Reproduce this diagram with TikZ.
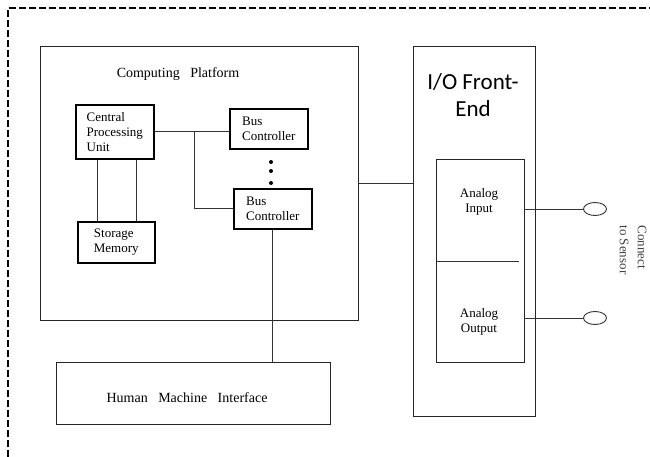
\documentclass[tikz,border=0pt]{standalone}
\usepackage{fontspec}
\setmainfont{Liberation Serif}
\newfontfamily\calib{Carlito}
\usetikzlibrary{shapes.geometric}
\begin{document}
\begin{tikzpicture}[x=1pt,y=-1pt,
  thinbox/.style={draw=black!85, line width=0.9pt, anchor=north west, inner sep=0pt},
  thickbox/.style={draw=black, line width=1.6pt, anchor=north west, inner sep=0pt, align=left, font=\fontsize{13}{15}\selectfont},
  lbl/.style={align=center, font=\fontsize{13}{15}\selectfont, inner sep=0pt},
  wire/.style={draw=black!80, line width=0.9pt},
  port/.style={ellipse, draw=black!80, line width=0.9pt, minimum width=23pt, minimum height=13pt, inner sep=0pt}
]
\useasboundingbox (0,0) rectangle (650,457);
% dashed frame
\draw[dash pattern=on 7pt off 3pt, line width=1.5pt] (8,457) -- (8,8) -- (650,8);

% computing platform
\node[thinbox, minimum width=318pt, minimum height=274pt] (plat) at (40,46) {};
\node[lbl, font=\fontsize{14}{16}\selectfont] (plattitle) at (178,74) {Computing\hspace{7pt} Platform};

\node[thickbox, minimum width=78pt, minimum height=54pt] (cpu) at (75,104) {Central\\Processing\\Unit};
\node[thickbox, minimum width=77pt, minimum height=41pt] (sto) at (77,221) {Storage\\Memory};
\node[thickbox, minimum width=78pt, minimum height=40pt] (bc1) at (229,108) {Bus\\Controller};
\node[thickbox, minimum width=78pt, minimum height=40pt] (bc2) at (233,188) {Bus\\Controller};

\fill (271,162) circle (2pt) (271,171) circle (2pt) (271,183) circle (2pt);

% human machine interface
\node[thinbox, minimum width=274pt, minimum height=62pt] (hmi) at (56,362) {};
\node[lbl, font=\fontsize{14}{16}\selectfont] (hmitext) at (187,398) {Human\hspace{7pt} Machine\hspace{7pt} Interface};

% I/O front end
\node[thinbox, minimum width=122pt, minimum height=370pt] (io) at (413,46) {};
\node[align=center, inner sep=0pt, font=\calib\fontsize{23}{27}\selectfont] (iotitle) at (473,95) {I/O Front-\\End};
\node[thinbox, minimum width=88pt, minimum height=203pt] (aio) at (436,159) {};
\node[lbl] (ain) at (479,202) {Analog\\Input};
\node[lbl] (aout) at (479,322) {Analog\\Output};
\draw[wire] (aio.west) -- ([xshift=-6pt]aio.east);

% sensor ports
\node[port] (s1) at (595,209) {};
\node[port] (s2) at (595,318) {};
\draw[wire] (aio.east |- s1) -- (s1.west);
\draw[wire] (aio.east |- s2) -- (s2.west);
\node[rotate=-90, align=left, inner sep=0pt, text=black!75, font=\fontsize{13}{18}\selectfont] (sensor) at (633,250) {Connect\\to Sensor};

% connectors
\draw[wire] (cpu.east) -- (bc1.west |- cpu.east);
\coordinate (br) at (194,131);
\draw[wire] (br) |- (bc2.west);
\draw[wire] ([xshift=-17pt]cpu.south) -- ([xshift=-17pt]cpu.south |- sto.north);
\draw[wire] ([xshift=22pt]cpu.south) -- ([xshift=22pt]cpu.south |- sto.north);
\draw[wire] (bc2.south) -- (bc2.south |- hmi.north);
\draw[wire] (plat.east) -- (io.west |- plat.east);
\end{tikzpicture}
\end{document}
